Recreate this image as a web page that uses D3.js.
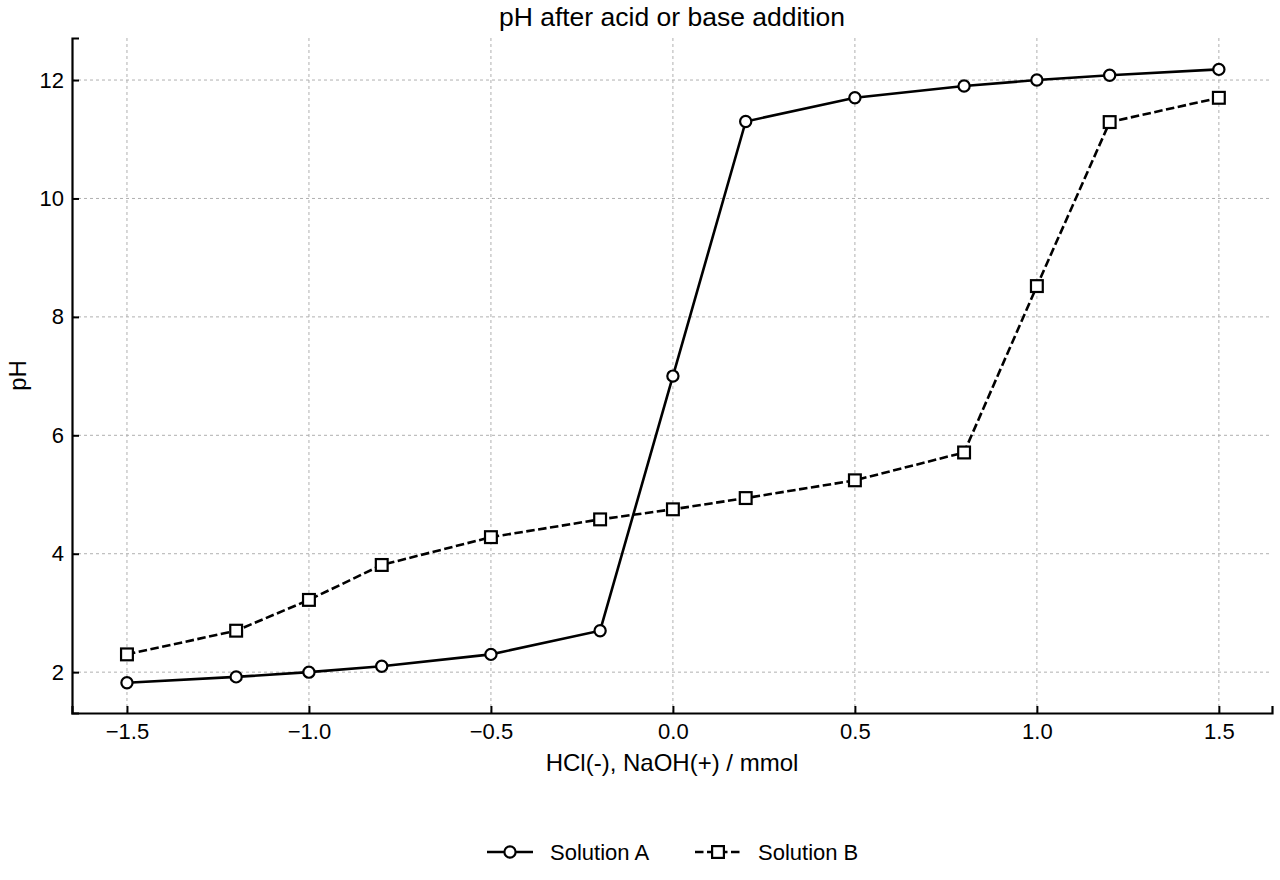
<!DOCTYPE html>
<html>
<head>
<meta charset="utf-8">
<script src="https://cdn.jsdelivr.net/npm/d3@7"></script>
<style>
  body { margin: 0; background: #fff; }
  svg { font-family: "Liberation Sans", Arial, Helvetica, sans-serif; }
</style>
</head>
<body>
<div id="chart"></div>
<script>
// ========= Data ========= //
const amounts = [-1.5, -1.2, -1.0, -0.8, -0.5, -0.2, 0.0, 0.2, 0.5, 0.8, 1.0, 1.2, 1.5];
const phA = [1.82, 1.92, 2.0, 2.1, 2.3, 2.7, 7.0, 11.3, 11.7, 11.9, 12.0, 12.08, 12.18];
const phB = [2.3, 2.7, 3.22, 3.81, 4.28, 4.58, 4.75, 4.94, 5.24, 5.71, 8.52, 11.29, 11.7];
const seriesNames = ['Solution A', 'Solution B'];
const xTicks = [-1.5, -1.0, -0.5, 0.0, 0.5, 1.0, 1.5];
const yTicks = [2, 4, 6, 8, 10, 12];

// ========= Layout ========= //
const width = 1280;
const height = 880;
const margin = { top: 38, right: 8, bottom: 167, left: 72 };
const plotW = width - margin.left - margin.right;
const plotH = height - margin.top - margin.bottom;

const x = d3.scaleLinear().domain([-1.651, 1.646]).range([0, plotW]);
const y = d3.scaleLinear().domain([1.31, 12.71]).range([plotH, 0]);

const svg = d3.select('#chart').append('svg')
  .attr('width', width)
  .attr('height', height);

const g = svg.append('g')
  .attr('transform', `translate(${margin.left},${margin.top})`);

// ========= Grid ========= //
g.append('g')
  .selectAll('line')
  .data(xTicks)
  .join('line')
  .attr('x1', (d) => x(d)).attr('x2', (d) => x(d))
  .attr('y1', 0).attr('y2', plotH)
  .attr('stroke', '#b0b0b0')
  .attr('stroke-width', 1)
  .attr('stroke-dasharray', '3,3');

g.append('g')
  .selectAll('line')
  .data(yTicks)
  .join('line')
  .attr('x1', 0).attr('x2', plotW)
  .attr('y1', (d) => y(d)).attr('y2', (d) => y(d))
  .attr('stroke', '#b0b0b0')
  .attr('stroke-width', 1)
  .attr('stroke-dasharray', '3,3');

// ========= Axes (ticks inward) ========= //
const fmtX = (d) => d3.format('.1f')(d).replace('-', '\u2212');

const xAxis = g.append('g')
  .attr('transform', `translate(0,${plotH})`)
  .call(d3.axisBottom(x).tickValues(xTicks).tickSize(-7).tickPadding(10).tickFormat(fmtX));

const yAxis = g.append('g')
  .call(d3.axisLeft(y).tickValues(yTicks).tickSize(-7).tickPadding(8).tickFormat(d3.format('d')));

[xAxis, yAxis].forEach((ax) => {
  ax.select('.domain').attr('stroke', '#000').attr('stroke-width', 2.2);
  ax.selectAll('.tick line').attr('stroke', '#000').attr('stroke-width', 2);
  ax.selectAll('.tick text').attr('fill', '#000').attr('font-size', 22).attr('font-family', null);
});

// ========= Lines ========= //
const line = d3.line()
  .x((d) => x(d[0]))
  .y((d) => y(d[1]));

const dataA = amounts.map((a, i) => [a, phA[i]]);
const dataB = amounts.map((a, i) => [a, phB[i]]);

g.append('path')
  .datum(dataA)
  .attr('fill', 'none')
  .attr('stroke', '#000')
  .attr('stroke-width', 2.6)
  .attr('d', line);

g.append('path')
  .datum(dataB)
  .attr('fill', 'none')
  .attr('stroke', '#000')
  .attr('stroke-width', 2.6)
  .attr('stroke-dasharray', '8.5,3.5')
  .attr('d', line);

g.append('g')
  .selectAll('circle')
  .data(dataA)
  .join('circle')
  .attr('cx', (d) => x(d[0]))
  .attr('cy', (d) => y(d[1]))
  .attr('r', 5.6)
  .attr('fill', '#fff')
  .attr('stroke', '#000')
  .attr('stroke-width', 2.2);

const sq = 11.8;
g.append('g')
  .selectAll('rect')
  .data(dataB)
  .join('rect')
  .attr('x', (d) => x(d[0]) - sq / 2)
  .attr('y', (d) => y(d[1]) - sq / 2)
  .attr('width', sq)
  .attr('height', sq)
  .attr('fill', '#fff')
  .attr('stroke', '#000')
  .attr('stroke-width', 2.2);

// ========= Titles ========= //
svg.append('text')
  .attr('x', margin.left + plotW / 2)
  .attr('y', 26)
  .attr('text-anchor', 'middle')
  .attr('font-size', 26.5)
  .text('pH after acid or base addition');

svg.append('text')
  .attr('x', margin.left + plotW / 2)
  .attr('y', 771)
  .attr('text-anchor', 'middle')
  .attr('font-size', 24)
  .text('HCl(-), NaOH(+) / mmol');

svg.append('text')
  .attr('transform', `translate(26,${margin.top + plotH / 2}) rotate(-90)`)
  .attr('text-anchor', 'middle')
  .attr('font-size', 24)
  .text('pH');

// ========= Legend ========= //
const legend = svg.append('g')
  .attr('transform', `translate(487,852)`);

const items = legend.selectAll('g')
  .data(seriesNames)
  .join('g')
  .attr('transform', (d, i) => `translate(${i * 208},0)`);

items.append('line')
  .attr('x1', 0).attr('x2', 46)
  .attr('stroke', '#000')
  .attr('stroke-width', 2.6)
  .attr('stroke-dasharray', (d, i) => (i === 1 ? '8.5,3.5' : null));

items.filter((d, i) => i === 0).append('circle')
  .attr('cx', 23).attr('r', 5.6)
  .attr('fill', '#fff').attr('stroke', '#000').attr('stroke-width', 2.2);

items.filter((d, i) => i === 1).append('rect')
  .attr('x', 23 - sq / 2).attr('y', -sq / 2)
  .attr('width', sq).attr('height', sq)
  .attr('fill', '#fff').attr('stroke', '#000').attr('stroke-width', 2.2);

items.append('text')
  .attr('x', 63)
  .attr('y', 8)
  .attr('font-size', 22)
  .text((d) => d);
</script>
</body>
</html>
